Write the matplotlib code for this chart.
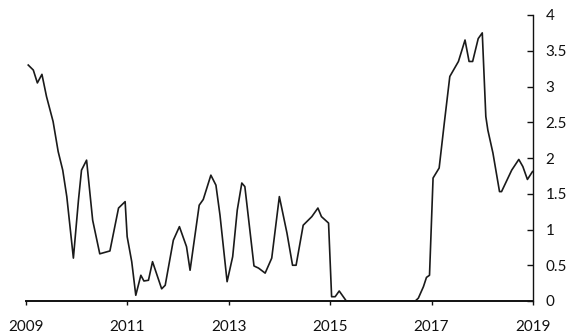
import numpy as np
import matplotlib
matplotlib.use("Agg")
import matplotlib.pyplot as plt

# values (decimal year, level)
years = [2009.05, 2009.15, 2009.23, 2009.32, 2009.41, 2009.54, 2009.64, 2009.73,
         2009.81, 2009.94, 2010.04, 2010.10, 2010.20, 2010.32, 2010.46, 2010.66,
         2010.83, 2010.96, 2011.00, 2011.09, 2011.17, 2011.27, 2011.33, 2011.42,
         2011.50, 2011.68, 2011.75, 2011.91, 2012.03, 2012.17, 2012.24, 2012.42,
         2012.50, 2012.65, 2012.75, 2012.83, 2012.97, 2013.08, 2013.17, 2013.26,
         2013.32, 2013.50, 2013.59, 2013.72, 2013.85, 2014.00, 2014.15, 2014.26,
         2014.33, 2014.47, 2014.64, 2014.76, 2014.83, 2014.97, 2015.03, 2015.10,
         2015.18, 2015.26, 2015.32, 2016.0, 2016.68, 2016.74, 2016.84, 2016.90,
         2016.96, 2017.03, 2017.15, 2017.25, 2017.36, 2017.53, 2017.66, 2017.74,
         2017.81, 2017.92, 2018.00, 2018.07, 2018.11, 2018.21, 2018.34, 2018.38,
         2018.58, 2018.72, 2018.80, 2018.89, 2018.99]
level = [3.30, 3.23, 3.05, 3.17, 2.86, 2.51, 2.09, 1.83,
         1.46, 0.60, 1.41, 1.83, 1.97, 1.13, 0.66, 0.70,
         1.30, 1.39, 0.90, 0.55, 0.08, 0.36, 0.28, 0.29,
         0.55, 0.17, 0.22, 0.85, 1.04, 0.76, 0.43, 1.34,
         1.42, 1.76, 1.62, 1.20, 0.27, 0.62, 1.27, 1.65,
         1.60, 0.49, 0.46, 0.39, 0.60, 1.46, 0.95, 0.50,
         0.50, 1.06, 1.18, 1.30, 1.18, 1.09, 0.06, 0.06,
         0.14, 0.06, 0.0, 0.0, 0.0, 0.04, 0.20, 0.33,
         0.36, 1.72, 1.86, 2.48, 3.14, 3.35, 3.65, 3.35,
         3.35, 3.67, 3.75, 2.58, 2.39, 2.07, 1.53, 1.53,
         1.83, 1.98, 1.88, 1.70, 1.81]

x_ticks = [2009, 2011, 2013, 2015, 2017, 2019]
y_ticks = [0, 0.5, 1, 1.5, 2, 2.5, 3, 3.5, 4]
y_labels = ["0", "0.5", "1", "1.5", "2", "2.5", "3", "3.5", "4"]

plt.rcParams['font.family'] = ['Lato', 'DejaVu Sans']

fig = plt.figure(figsize=(5.83, 3.36), dpi=100)
ax = fig.add_axes([25.7 / 583, 1 - 301 / 336, (533 - 25.7) / 583, (301 - 15) / 336])

ax.plot(years, level, color="#1a1a1a", lw=1.2)

ax.set_xlim(2009, 2019)
ax.set_ylim(0, 4)
ax.spines['top'].set_visible(False)
ax.spines['left'].set_visible(False)
ax.spines['bottom'].set_linewidth(1.4)
ax.spines['right'].set_linewidth(1.0)
ax.spines['bottom'].set_color("#111")
ax.spines['right'].set_color("#111")

ax.yaxis.tick_right()
ax.set_yticks(y_ticks)
ax.set_yticklabels(y_labels)
ax.tick_params(axis='y', direction='in', length=4, width=1, pad=9,
               labelsize=11, colors="#111")
ax.set_xticks(x_ticks)
ax.set_xticklabels([str(t) for t in x_ticks])
ax.tick_params(axis='x', direction='out', length=3, width=1, pad=11,
               labelsize=11, colors="#111")

fig.savefig("out.png", dpi=100)
